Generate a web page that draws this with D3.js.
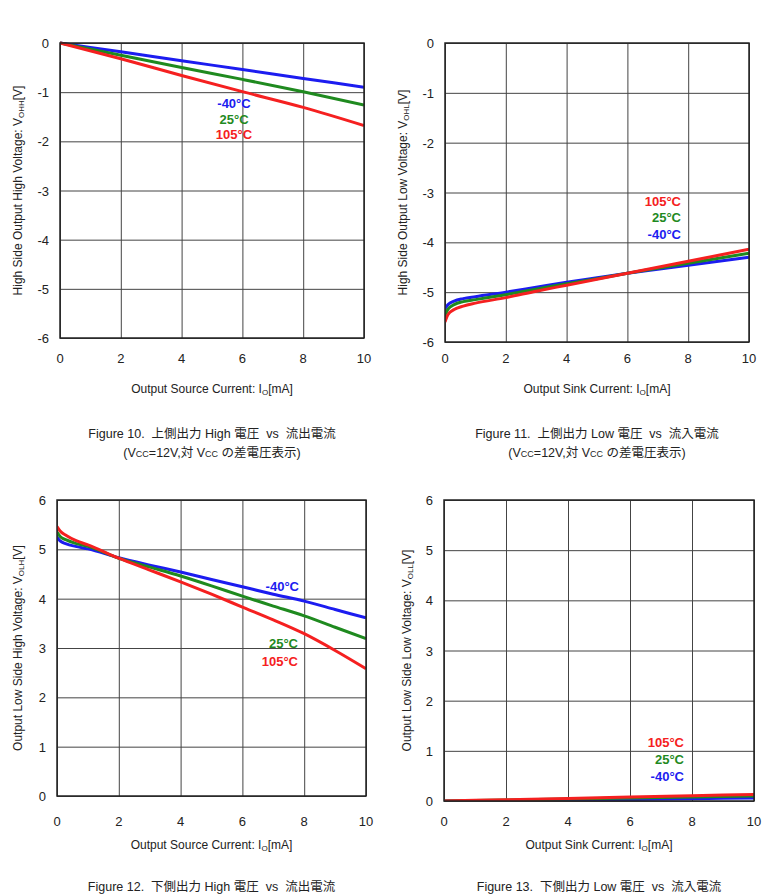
<!DOCTYPE html>
<html>
<head>
<meta charset="utf-8">
<script src="https://cdn.jsdelivr.net/npm/d3@7"></script>
<style>
  body { margin: 0; background: #fff; }
  svg text { font-family: "Liberation Sans", Arial, "Noto Sans CJK JP", sans-serif; fill: #222; white-space: pre; }
  .grid line { stroke: #444; stroke-width: 1; }
  .grid path { display: none; }
</style>
</head>
<body>
<script>
// ---- data ----
var xLinear = [0, 2, 4, 6, 8, 10];
var xCurved = [0, 0.1, 0.3, 0.6, 1, 2, 3, 4, 5, 6, 7, 8, 9, 10];
var xTicks = [0, 2, 4, 6, 8, 10];
var seriesNames = ["-40°C", "25°C", "105°C"];
var seriesColors = ["#1c1cf0", "#1f8a1f", "#f52020"];

// Figure 10: VOHH vs source current
var fig10Blue = [0, -0.18, -0.36, -0.54, -0.72, -0.9];
var fig10Green = [0, -0.25, -0.5, -0.74, -0.99, -1.26];
var fig10Red = [0, -0.32, -0.66, -0.99, -1.31, -1.68];

// Figure 11: VOHL vs sink current
var fig11Blue = [-5.33, -5.25, -5.18, -5.13, -5.09, -5.0, -4.9, -4.8, -4.71, -4.62, -4.54, -4.46, -4.38, -4.3];
var fig11Green = [-5.46, -5.34, -5.25, -5.19, -5.15, -5.05, -4.94, -4.83, -4.73, -4.62, -4.52, -4.42, -4.32, -4.22];
var fig11Red = [-5.6, -5.45, -5.35, -5.28, -5.22, -5.11, -4.98, -4.86, -4.74, -4.62, -4.5, -4.38, -4.26, -4.14];

// Figure 12: VOLH vs source current
var fig12Blue = [5.25, 5.17, 5.11, 5.06, 5.01, 4.83, 4.68, 4.54, 4.39, 4.24, 4.09, 3.95, 3.78, 3.61];
var fig12Green = [5.35, 5.26, 5.19, 5.12, 5.06, 4.82, 4.64, 4.46, 4.26, 4.05, 3.85, 3.65, 3.42, 3.19];
var fig12Red = [5.46, 5.37, 5.28, 5.18, 5.09, 4.82, 4.58, 4.34, 4.09, 3.83, 3.57, 3.29, 2.95, 2.58];

// Figure 13: VOLL vs sink current
var fig13Blue = [0, 0.01, 0.02, 0.03, 0.045, 0.06];
var fig13Green = [0, 0.02, 0.04, 0.06, 0.08, 0.1];
var fig13Red = [0, 0.025, 0.05, 0.08, 0.105, 0.13];

var width = 762, height = 895;

var svg = d3.select("body").append("svg")
    .attr("width", width)
    .attr("height", height);

// one panel = one small chart
function drawPanel(p) {
    var xScale = d3.scaleLinear().domain([0, 10]).range([p.left, p.right]);
    var yScale = d3.scaleLinear().domain(p.yDomain).range([p.bottom, p.top]);
    var w = p.right - p.left, h = p.bottom - p.top;

    var g = svg.append("g");

    // grid lines
    g.append("g")
        .attr("class", "grid")
        .attr("transform", "translate(0," + p.bottom + ")")
        .call(d3.axisBottom(xScale).tickValues(xTicks).tickSize(-h).tickFormat(""));
    g.append("g")
        .attr("class", "grid")
        .attr("transform", "translate(" + p.left + ",0)")
        .call(d3.axisLeft(yScale).tickValues(p.yTicks).tickSize(-w).tickFormat(""));

    // tick labels
    g.selectAll(".xt").data(xTicks).enter().append("text")
        .attr("x", function (d) { return xScale(d); })
        .attr("y", p.rowY.tick)
        .attr("text-anchor", "middle")
        .style("font-size", "13px")
        .text(function (d) { return d; });
    g.selectAll(".yt").data(p.yTicks).enter().append("text")
        .attr("x", p.left - 11)
        .attr("y", function (d) { return yScale(d) + 5; })
        .attr("text-anchor", "end")
        .style("font-size", "13px")
        .text(function (d) { return d; });

    // curves
    var line = d3.line()
        .x(function (d) { return xScale(d[0]); })
        .y(function (d) { return yScale(d[1]); })
        .curve(d3.curveMonotoneX);

    g.append("clipPath").attr("id", "clip" + p.id)
        .append("rect").attr("x", p.left).attr("y", p.top - 2).attr("width", w).attr("height", h + 2);

    p.series.forEach(function (vals, i) {
        g.append("path")
            .datum(p.xs.map(function (x, j) { return [x, vals[j]]; }))
            .attr("clip-path", "url(#clip" + p.id + ")")
            .attr("d", line)
            .attr("fill", "none")
            .attr("stroke", seriesColors[i])
            .attr("stroke-width", 3);
    });

    // frame
    g.append("rect")
        .attr("x", p.left).attr("y", p.top)
        .attr("width", w).attr("height", h)
        .attr("fill", "none")
        .attr("stroke", "#222")
        .attr("stroke-width", 1.5);

    // series labels
    p.labels.forEach(function (lb) {
        g.append("text")
            .attr("x", lb.x).attr("y", lb.y)
            .attr("text-anchor", lb.anchor)
            .style("font-size", "13px")
            .style("font-weight", "bold")
            .style("fill", seriesColors[lb.s])
            .text(seriesNames[lb.s]);
    });

    // y axis title
    var yt = g.append("text")
        .attr("transform", "translate(" + p.yTitleX + "," + ((p.top + p.bottom) / 2) + ") rotate(-90)")
        .attr("text-anchor", "middle")
        .style("font-size", "12px");
    yt.append("tspan").text(p.yTitle[0]);
    yt.append("tspan").attr("dy", 2).style("font-size", "8px").text(p.yTitle[1]);
    yt.append("tspan").attr("dy", -2).text("[V]");

    // x axis title
    var xt = g.append("text")
        .attr("x", (p.left + p.right) / 2)
        .attr("y", p.rowY.title)
        .attr("text-anchor", "middle")
        .style("font-size", "12px");
    xt.append("tspan").text(p.xTitle + ": I");
    xt.append("tspan").attr("dy", 2).style("font-size", "8px").text("O");
    xt.append("tspan").attr("dy", -2).text("[mA]");

    // caption
    var cx = (p.left + p.right) / 2;
    g.append("text")
        .attr("x", cx).attr("y", p.rowY.caption)
        .attr("text-anchor", "middle")
        .style("font-size", "12.5px")
        .text(p.caption);
    if (p.subCaption) {
        var c2 = g.append("text")
            .attr("x", cx).attr("y", p.rowY.caption + 19)
            .attr("text-anchor", "middle")
            .style("font-size", "12.5px");
        c2.append("tspan").text("(V");
        c2.append("tspan").style("font-size", "9px").text("CC");
        c2.append("tspan").text("=12V,対 V");
        c2.append("tspan").style("font-size", "9px").text("CC");
        c2.append("tspan").text(" の差電圧表示)");
    }
}

var topRow = { tick: 363, title: 393, caption: 438 };
var bottomRow = { tick: 826, title: 849, caption: 891 };

drawPanel({
    id: 10, left: 60, right: 364, top: 43, bottom: 338, rowY: topRow,
    yDomain: [-6, 0], yTicks: [-6, -5, -4, -3, -2, -1, 0],
    xs: xLinear, series: [fig10Blue, fig10Green, fig10Red],
    labels: [
        { s: 0, x: 234, y: 108, anchor: "middle" },
        { s: 1, x: 234, y: 124, anchor: "middle" },
        { s: 2, x: 234, y: 139, anchor: "middle" }
    ],
    yTitleX: 22, yTitle: ["High Side Output High Voltage: V", "OHH"],
    xTitle: "Output Source Current",
    caption: "Figure 10.  上側出力 High 電圧  vs  流出電流", subCaption: true
});

drawPanel({
    id: 11, left: 445, right: 749, top: 43, bottom: 342, rowY: topRow,
    yDomain: [-6, 0], yTicks: [-6, -5, -4, -3, -2, -1, 0],
    xs: xCurved, series: [fig11Blue, fig11Green, fig11Red],
    labels: [
        { s: 2, x: 681, y: 206, anchor: "end" },
        { s: 1, x: 681, y: 222, anchor: "end" },
        { s: 0, x: 681, y: 239, anchor: "end" }
    ],
    yTitleX: 407, yTitle: ["High Side Output Low Voltage: V", "OHL"],
    xTitle: "Output Sink Current",
    caption: "Figure 11.  上側出力 Low 電圧  vs  流入電流", subCaption: true
});

drawPanel({
    id: 12, left: 57, right: 366, top: 500, bottom: 796, rowY: bottomRow,
    yDomain: [0, 6], yTicks: [0, 1, 2, 3, 4, 5, 6],
    xs: xCurved, series: [fig12Blue, fig12Green, fig12Red],
    labels: [
        { s: 0, x: 299, y: 591, anchor: "end" },
        { s: 1, x: 298, y: 648, anchor: "end" },
        { s: 2, x: 298, y: 666, anchor: "end" }
    ],
    yTitleX: 22, yTitle: ["Output Low Side High Voltage: V", "OLH"],
    xTitle: "Output Source Current",
    caption: "Figure 12.  下側出力 High 電圧  vs  流出電流", subCaption: false
});

drawPanel({
    id: 13, left: 444, right: 754, top: 500, bottom: 801, rowY: bottomRow,
    yDomain: [0, 6], yTicks: [0, 1, 2, 3, 4, 5, 6],
    xs: xLinear, series: [fig13Blue, fig13Green, fig13Red],
    labels: [
        { s: 2, x: 684, y: 747, anchor: "end" },
        { s: 1, x: 684, y: 764, anchor: "end" },
        { s: 0, x: 684, y: 781, anchor: "end" }
    ],
    yTitleX: 411, yTitle: ["Output Low Side Low Voltage: V", "OLL"],
    xTitle: "Output Sink Current",
    caption: "Figure 13.  下側出力 Low 電圧  vs  流入電流", subCaption: false
});
</script>
</body>
</html>
